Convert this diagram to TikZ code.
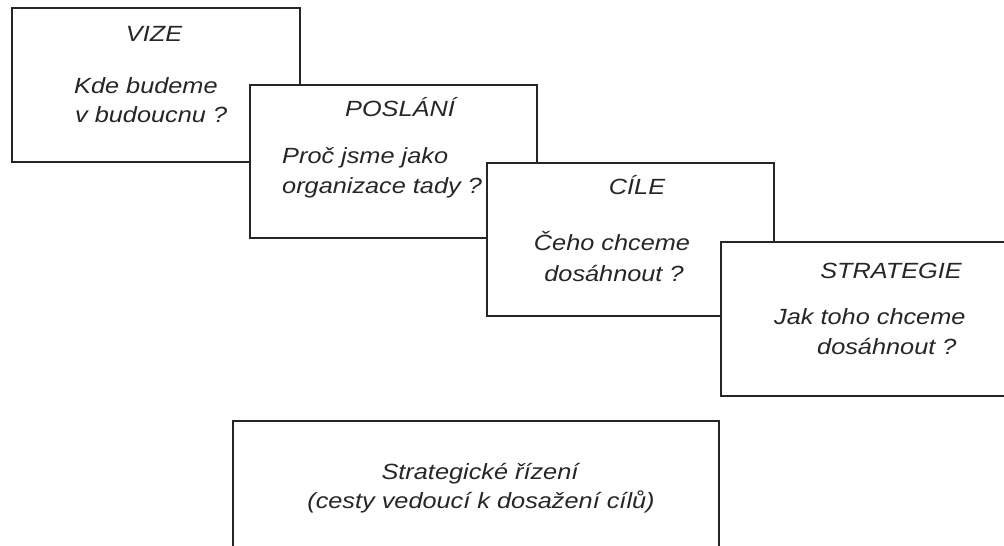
\documentclass[tikz,border=0pt]{standalone}
\usepackage{fontspec}
\setmainfont{Liberation Sans}[FakeStretch=1.15]
\begin{document}
\begin{tikzpicture}[x=1pt,y=-1pt,
  box/.style={draw=black!85,line width=1.6pt,fill=white,inner sep=0pt,rectangle},
  txt/.style={inner sep=0pt,font=\fontsize{22}{29}\selectfont\itshape,text=black!85}]
\useasboundingbox (0,0) rectangle (1004,546);
\clip (0,0) rectangle (1004,546);
% stacked, overlapping cards
\node[box,minimum width=288,minimum height=154] (vize) at (156,85) {};
\node[box,minimum width=287,minimum height=153] (poslani) at (393.5,161.5) {};
\node[box,minimum width=287,minimum height=153] (cile) at (630.5,239.5) {};
\node[box,minimum width=287,minimum height=154] (strategie) at (864.5,319) {};
\node[box,minimum width=486,minimum height=160] (rizeni) at (476,501) {};
% VIZE
\node[txt,anchor=base] (t1) at (154,41) {VIZE};
\node[txt,anchor=base west] (t1a) at (74,93) {Kde budeme};
\node[txt,anchor=base west] (t1b) at (75,122) {v budoucnu ?};
% POSLANI
\node[txt,anchor=base] (t2) at (400,116) {POSLÁNÍ};
\node[txt,anchor=base west] (t2a) at (282,163) {Proč jsme jako};
\node[txt,anchor=base west] (t2b) at (282,193) {organizace tady ?};
% CILE
\node[txt,anchor=base] (t3) at (637,194) {CÍLE};
\node[txt,anchor=base] (t3a) at (612,250) {Čeho chceme};
\node[txt,anchor=base] (t3b) at (614,281) {dosáhnout ?};
% STRATEGIE
\node[txt,anchor=base] (t4) at (891,278) {STRATEGIE};
\node[txt,anchor=base west] (t4a) at (774,324) {Jak toho chceme};
\node[txt,anchor=base west] (t4b) at (817,354) {dosáhnout ?};
% strategic management
\node[txt,anchor=base] (t5a) at (480,479) {Strategické řízení};
\node[txt,anchor=base] (t5b) at (481,508) {(cesty vedoucí k dosažení cílů)};
\end{tikzpicture}
\end{document}
